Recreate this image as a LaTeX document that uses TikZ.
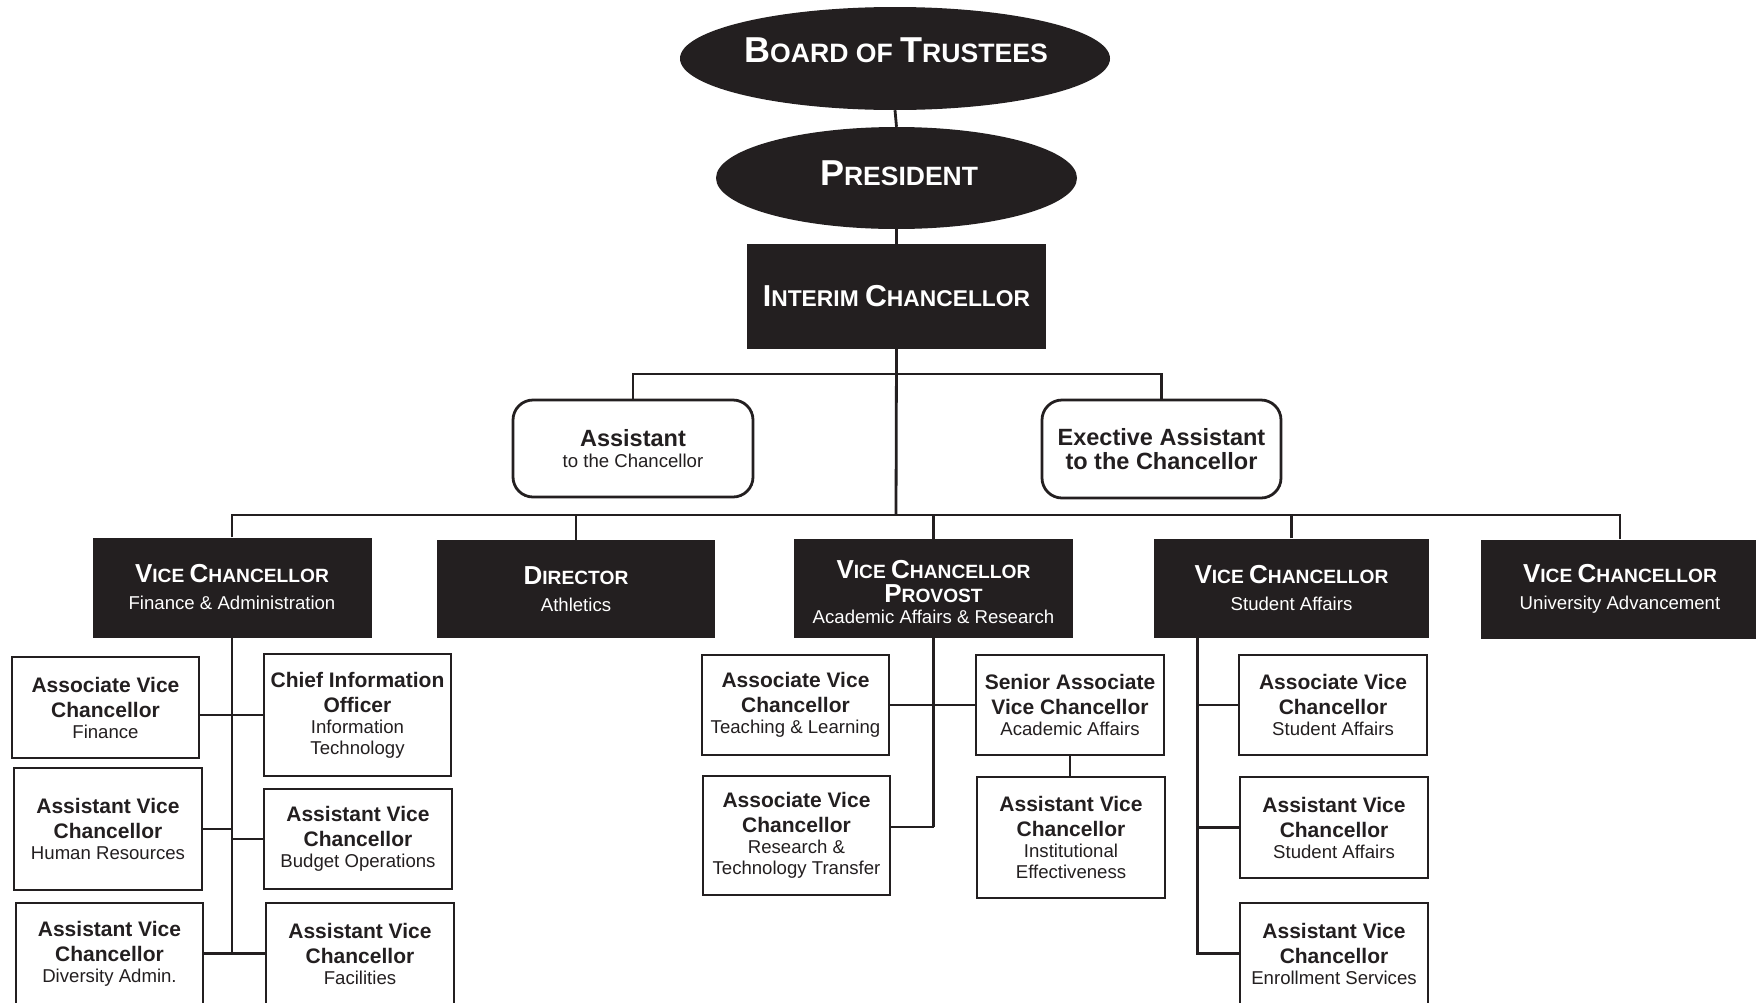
\documentclass[tikz,border=0pt]{standalone}
\usepackage{fontspec}
\setmainfont{Liberation Sans}
\usetikzlibrary{shapes.geometric,calc}
\definecolor{ink}{HTML}{231F20}
\newcommand{\mysc}[3]{#2{\fontsize{#1}{#1}\selectfont #3}}
\newcommand{\subl}[1]{{\mdseries\fontsize{18.6}{25}\selectfont #1}}
\newcommand{\subv}[1]{{\mdseries\fontsize{18.6}{27}\selectfont #1}}
\newcommand{\vctitle}{\mysc{19.2}{V}{ICE }\mysc{19.2}{C}{HANCELLOR}}
\tikzset{
  ln/.style={draw=ink, line width=2.8pt},
  dbox/.style={rectangle, fill=ink, text=white, inner sep=0pt, align=center,
    font=\bfseries\fontsize{26}{27}\selectfont},
  wbox/.style={rectangle, draw=ink, line width=2.8pt, fill=white, text=ink,
    inner sep=0pt, align=center, font=\bfseries\fontsize{21}{25}\selectfont},
  rbox/.style={wbox, rounded corners=20pt, font=\bfseries\fontsize{23.5}{24}\selectfont},
  oval/.style={ellipse, fill=ink, inner sep=0pt},
  otext/.style={text=white, inner sep=0pt, font=\bfseries\fontsize{36}{40}\selectfont},
}
\begin{document}
\begin{tikzpicture}[x=1pt,y=-1pt]
\clip (0,0) rectangle (1756,1002);
\fill[white] (0,0) rectangle (1756,1002);

% top chain
\node[oval, minimum width=430, minimum height=103] (board) at (895,58.5) {};
\node[otext] (boardtxt) at (896,50) {\mysc{26.6}{B}{OARD OF }\mysc{26.6}{T}{RUSTEES}};
\node[oval, minimum width=361, minimum height=102] (pres) at (896.5,178) {};
\node[otext] (prestxt) at (899,173.7) {\mysc{26.5}{P}{RESIDENT}};
\node[dbox, minimum width=299, minimum height=105, font=\bfseries\fontsize{30.3}{32}\selectfont]
  (interim) at (896.5,296.5) {\mysc{22.8}{I}{NTERIM }\mysc{22.8}{C}{HANCELLOR}};

\node[rbox, minimum width=240, minimum height=97] (asst) at (633,448.5)
  {Assistant\\[-2.3pt]{\mdseries\fontsize{18.6}{24}\selectfont to the Chancellor}};
\node[rbox, minimum width=239, minimum height=98] (exec) at (1161.5,449)
  {Exective Assistant\\to the Chancellor};

% vice chancellors
\node[dbox, minimum width=279, minimum height=100] (vcfin) at (232,587.5)
  {\vctitle\\\subv{Finance \& Administration}};
\node[dbox, minimum width=278, minimum height=98] (dir) at (576,589)
  {\mysc{19.2}{D}{IRECTOR}\\\subv{Athletics}};
\node[dbox, minimum width=279, minimum height=99] (prov) at (933.5,588.5)
  {\rule{0pt}{25pt}\vctitle\\[-3.3pt]\mysc{19.2}{P}{ROVOST}\\[-6.3pt]\subv{Academic Affairs \& Research}};
\node[dbox, minimum width=275, minimum height=99] (vcsa) at (1291.5,588)
  {\vctitle\\\subv{Student Affairs}};
\node[dbox, minimum width=278, minimum height=99] (vcua) at (1620,589)
  {\vctitle\\\subv{University Advancement}};

% finance subtree
\node[wbox, minimum width=187, minimum height=101] (avcfin) at (105.5,707.5)
  {Associate Vice\\Chancellor\\[-4pt]\subl{Finance}};
\node[wbox, minimum width=187, minimum height=122] (cio) at (357.5,715)
  {Chief Information\\Officer\\[-4pt]\subl{Information}\\[-4pt]\subl{Technology}};
\node[wbox, minimum width=188, minimum height=122] (avchr) at (108,829)
  {Assistant Vice\\Chancellor\\[-4pt]\subl{Human Resources}};
\node[wbox, minimum width=188, minimum height=100] (avcbud) at (358,839)
  {Assistant Vice\\Chancellor\\[-4pt]\subl{Budget Operations}};
\node[wbox, minimum width=187, minimum height=101] (avcdiv) at (109.5,953.5)
  {Assistant Vice\\Chancellor\\[-4pt]\subl{Diversity Admin.}};
\node[wbox, minimum width=188, minimum height=101] (avcfac) at (360,953.5)
  {Assistant Vice\\Chancellor\\[-4pt]\subl{Facilities}};

% provost subtree
\node[wbox, minimum width=187, minimum height=100] (avctl) at (795.5,705)
  {Associate Vice\\Chancellor\\[-4pt]\subl{Teaching \& Learning}};
\node[wbox, minimum width=188, minimum height=100] (sravc) at (1070,705)
  {Senior Associate\\Vice Chancellor\\[-4pt]\subl{Academic Affairs}};
\node[wbox, minimum width=188, minimum height=121] (avcie) at (1071,837.5)
  {Assistant Vice\\Chancellor\\[-4pt]\subl{Institutional}\\[-4pt]\subl{Effectiveness}};
\node[wbox, minimum width=187, minimum height=119] (avcres) at (796.5,835.5)
  {Associate Vice\\Chancellor\\[-4pt]\subl{Research \&}\\[-4pt]\subl{Technology Transfer}};

% student affairs subtree
\node[wbox, minimum width=188, minimum height=100] (avcsa1) at (1333,705)
  {Associate Vice\\Chancellor\\[-4pt]\subl{Student Affairs}};
\node[wbox, minimum width=188, minimum height=101] (avcsa2) at (1334,827.5)
  {Assistant Vice\\Chancellor\\[-4pt]\subl{Student Affairs}};
\node[wbox, minimum width=188, minimum height=101] (avcenr) at (1334,953.5)
  {Assistant Vice\\Chancellor\\[-4pt]\subl{Enrollment Services}};

% hubs
\coordinate (hubA) at (896,374);
\coordinate (hubB) at (896,515);
\coordinate (rlev) at (0,827);
\coordinate (satop) at ($(vcsa.south west)+(44,0)$);

% connectors
\draw[ln] (board.south) -- (pres.north);
\draw[ln] (pres.south) -- (interim.north);
\draw[ln] (interim.south) -- (hubB);
\draw[ln] (asst.north) -- (asst.north |- hubA) -- (exec.north |- hubA) -- (exec.north);
\draw[ln] (vcfin.north) |- (hubB);
\draw[ln] (vcua.north) |- (hubB);
\draw[ln] (dir.north) -- (dir.north |- hubB);
\draw[ln] (prov.north) -- (prov.north |- hubB);
\draw[ln] (vcsa.north) -- (vcsa.north |- hubB);

\draw[ln] (vcfin.south) -- (vcfin.south |- avcdiv.east);
\draw[ln] (avcfin.east |- cio.west) -- (cio.west);
\draw[ln] (avchr.east) -- (avchr.east -| vcfin.south);
\draw[ln] (vcfin.south |- avcbud.west) -- (avcbud.west);
\draw[ln] (avcdiv.east) -- (avcfac.west);

\draw[ln] (prov.south) -- (prov.south |- rlev);
\draw[ln] (avcres.east |- rlev) -- (prov.south |- rlev);
\draw[ln] (avctl.east) -- (sravc.west);
\draw[ln] (sravc.south) -- (sravc.south |- avcie.north);

\draw[ln] (satop) |- (avcenr.west);
\draw[ln] (satop |- avcsa1.west) -- (avcsa1.west);
\draw[ln] (satop |- avcsa2.west) -- (avcsa2.west);
\end{tikzpicture}
\end{document}
